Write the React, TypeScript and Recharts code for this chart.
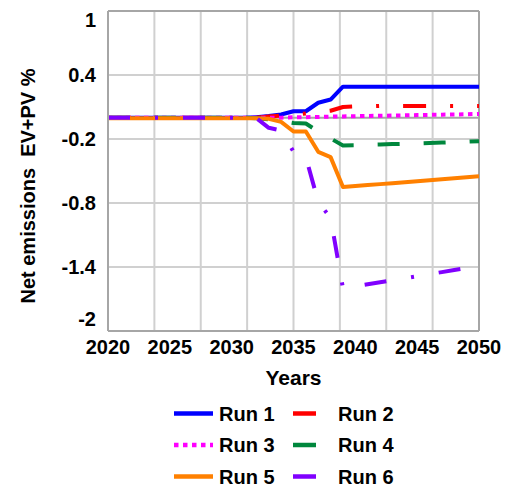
import React from 'react';
import { LineChart, Line, XAxis, YAxis, CartesianGrid, ReferenceLine } from 'recharts';

const years = [
  2020, 2021, 2022, 2023, 2024, 2025, 2026, 2027, 2028, 2029, 2030,
  2031, 2032, 2033, 2034, 2035, 2036, 2037, 2038, 2039, 2040,
  2041, 2042, 2043, 2044, 2045, 2046, 2047, 2048, 2049, 2050,
];

const run1 = [
  0, 0, 0, 0, 0, 0, 0, 0, 0, 0, 0,
  0, 0.005, 0.015, 0.03, 0.06, 0.06, 0.14, 0.17, 0.29, 0.29,
  0.29, 0.29, 0.29, 0.29, 0.29, 0.29, 0.29, 0.29, 0.29, 0.29,
];
const run2 = [
  0, 0, 0, 0, 0, 0, 0, 0, 0, 0, 0,
  0, 0, 0.01, 0.02, 0.03, 0.04, 0.05, 0.065, 0.1, 0.105,
  0.105, 0.11, 0.11, 0.11, 0.11, 0.11, 0.11, 0.11, 0.11, 0.11,
];
const run3 = [
  0, 0, 0, 0, 0, 0, 0, 0, 0, 0, 0,
  0, 0, 0, 0, 0.003, 0.005, 0.007, 0.01, 0.012, 0.014,
  0.016, 0.018, 0.02, 0.022, 0.024, 0.026, 0.028, 0.03, 0.032, 0.035,
];
const run4 = [
  0, 0, 0, 0, 0, 0, 0, 0, 0, 0, 0,
  0, -0.005, -0.015, -0.03, -0.05, -0.055, -0.13, -0.195, -0.26, -0.258,
  -0.255, -0.252, -0.248, -0.245, -0.241, -0.237, -0.233, -0.229, -0.225, -0.22,
];
const run5 = [
  -0.005, -0.005, -0.005, -0.005, -0.005, -0.005, -0.005, -0.005, -0.005, -0.005, -0.005,
  -0.005, -0.005, -0.01, -0.04, -0.13, -0.13, -0.32, -0.37, -0.65, -0.641,
  -0.632, -0.623, -0.614, -0.605, -0.595, -0.586, -0.577, -0.568, -0.559, -0.55,
];
const run6 = [
  0, 0, 0, 0, 0, 0, 0, 0, 0, 0, 0,
  0, -0.005, -0.095, -0.12, -0.32, -0.37, -0.79, -0.94, -1.6, -1.581,
  -1.562, -1.543, -1.524, -1.505, -1.486, -1.467, -1.448, -1.429, -1.41, -1.39,
];

const seriesNames = ['Run 1', 'Run 2', 'Run 3', 'Run 4', 'Run 5', 'Run 6'];
const xTicks = [2020, 2025, 2030, 2035, 2040, 2045, 2050];
const yTicks = [-2, -1.4, -0.8, -0.2, 0.4, 1];
const xGridYears = [2023.75, 2027.5, 2031.25, 2035, 2038.75, 2042.5, 2046.25];
const xTitle = 'Years';
const yTitle = 'Net emissions  EV+PV %';

const seriesValues = [run1, run2, run3, run4, run5, run6];
const keys = ['r1', 'r2', 'r3', 'r4', 'r5', 'r6'];

const data = years.map((year, i) => {
  const row: Record<string, number> = { year };
  keys.forEach((k, s) => {
    row[k] = seriesValues[s][i];
  });
  return row;
});

const styles = [
  { color: '#0000FF', dash: undefined as string | undefined },
  { color: '#FF0000', dash: '23 24 3 24' },
  { color: '#FF00FF', dash: '4.5 4.5' },
  { color: '#00873D', dash: '22 24' },
  { color: '#FF8000', dash: undefined },
  { color: '#8000FF', dash: '22 25 3 25' },
];

const FONT = '"Liberation Sans", Arial, Helvetica, sans-serif';
const GRID = '#d0d0d0';
const BORDER = '#a6a6a6';

const XTick = (props: any) => {
  const { x, y, payload } = props;
  return (
    <text x={x} y={y} dy={23} textAnchor="middle" fontFamily={FONT} fontWeight={700} fontSize={20} fill="#000">
      {payload.value}
    </text>
  );
};

const YTick = (props: any) => {
  const { x, y, payload } = props;
  let shift = 0;
  if (payload.value === 1) shift = 9;
  if (payload.value === -2) shift = -12;
  return (
    <text x={x} y={y + shift} dy={7} textAnchor="end" fontFamily={FONT} fontWeight={700} fontSize={20} fill="#000">
      {String(payload.value)}
    </text>
  );
};

const YTitle = (props: any) => {
  const vb = props.viewBox || { x: 0, y: 3, width: 100, height: 320 };
  const cx = 20;
  const cy = vb.y + vb.height / 2 + 15;
  return (
    <text
      x={cx}
      y={cy}
      transform={`rotate(-90 ${cx} ${cy})`}
      textAnchor="middle"
      dy={7}
      fontFamily={FONT}
      fontWeight={700}
      fontSize={20}
      fill="#000"
      style={{ whiteSpace: 'pre' }}
    >
      {yTitle}
    </text>
  );
};

const XTitle = (props: any) => {
  const vb = props.viewBox || { x: 100, y: 323, width: 371, height: 77 };
  return (
    <text x={vb.x + vb.width / 2} y={377} textAnchor="middle" fontFamily={FONT} fontWeight={700} fontSize={21} fill="#000">
      {xTitle}
    </text>
  );
};

const legendCols = [
  { x1: 166, x2: 205, tx: 211 },
  { x1: 285, x2: 308, tx: 330 },
];
const legendRows = [405.5, 437, 468.5];

const LegendBox = () => (
  <svg width={496} height={479} style={{ position: 'absolute', left: 0, top: 0, pointerEvents: 'none' }}>
    {seriesNames.map((name, i) => {
      const col = legendCols[i % 2];
      const cy = legendRows[Math.floor(i / 2)];
      const st = styles[i];
      const dash = i === 2 ? st.dash : undefined;
      return (
        <g key={name}>
          <line x1={col.x1} x2={col.x2} y1={cy} y2={cy} stroke={st.color} strokeWidth={4.5} strokeDasharray={dash} />
          <text x={col.tx} y={cy + 7} fontFamily={FONT} fontWeight={700} fontSize={20} fill="#000">
            {name}
          </text>
        </g>
      );
    })}
  </svg>
);

export default function App() {
  return (
    <div style={{ position: 'relative', width: 496, height: 479 }}>
      <LineChart width={496} height={400} data={data} margin={{ top: 3, right: 25, bottom: 0, left: 0 }}>
        <CartesianGrid vertical={false} stroke={GRID} strokeWidth={2} />
        {xGridYears.map((g) => (
          <ReferenceLine key={g} x={g} stroke={GRID} strokeWidth={2} />
        ))}
        <ReferenceLine y={1} stroke={BORDER} strokeWidth={2} />
        <ReferenceLine x={2050} stroke={BORDER} strokeWidth={2} />
        <ReferenceLine y={0} stroke={BORDER} strokeWidth={2} />
        <XAxis
          dataKey="year"
          type="number"
          domain={[2020, 2050]}
          ticks={xTicks}
          allowDataOverflow
          height={77}
          tickSize={0}
          tickMargin={0}
          tickLine={false}
          axisLine={{ stroke: BORDER, strokeWidth: 2 }}
          tick={(p: any) => <XTick {...p} />}
          interval={0}
          label={(p: any) => <XTitle {...p} />}
        />
        <YAxis
          type="number"
          domain={[-2, 1]}
          ticks={yTicks}
          allowDataOverflow
          width={100}
          tickSize={0}
          tickMargin={12}
          tickLine={false}
          axisLine={{ stroke: BORDER, strokeWidth: 2 }}
          tick={(p: any) => <YTick {...p} />}
          interval={0}
          label={(p: any) => <YTitle {...p} />}
        />
        {keys.map((k, i) => (
          <Line
            key={k}
            type="linear"
            dataKey={k}
            name={seriesNames[i]}
            stroke={styles[i].color}
            strokeWidth={4}
            strokeDasharray={styles[i].dash}
            strokeLinejoin="round"
            dot={false}
            activeDot={false}
            isAnimationActive={false}
          />
        ))}
      </LineChart>
      <LegendBox />
    </div>
  );
}
